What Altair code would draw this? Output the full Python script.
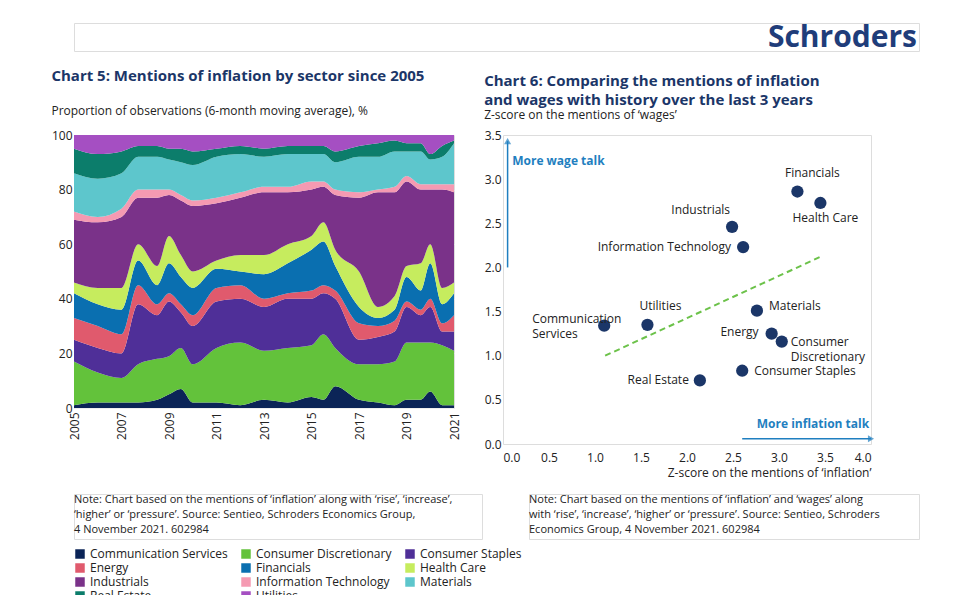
import altair as alt
import pandas as pd

years = [2005, 2006, 2007, 2007.7, 2008.5, 2009, 2009.5, 2010, 2011, 2012, 2013, 2014, 2015,
         2015.5, 2016, 2017, 2017.8, 2018.5, 2019, 2019.6, 2020, 2020.5, 2021]
sectors = ["Communication Services", "Consumer Discretionary", "Consumer Staples", "Energy",
           "Financials", "Health Care", "Industrials", "Information Technology", "Materials",
           "Real Estate", "Utilities"]
colors = ["#0b2457", "#63c23b", "#4f2f98", "#e05a6d", "#0a6fb0", "#c6ec5e", "#7a3289",
          "#f59ab2", "#5dc6cc", "#0c7d6b", "#a54fc2"]
# cumulative tops (%) per date, bottom to top (Utilities tops at 100)
cum = [
    [1, 17, 25, 33, 42, 46, 69, 72, 86, 95],
    [2, 13, 22, 30, 38, 44, 68, 70, 84, 93],
    [2, 11, 20, 27, 36, 44, 70, 73, 86, 94],
    [2, 16, 38, 45, 54, 60, 77, 80, 92, 96],
    [3, 18, 34, 38, 45, 52, 77, 80, 92, 96],
    [5, 19, 39, 42, 53, 63, 78, 80, 91, 95],
    [7, 22, 35, 38, 48, 56, 76, 78, 90, 95],
    [2, 16, 30, 34, 44, 50, 74, 76, 89, 94],
    [2, 22, 39, 44, 51, 54, 75, 77, 92, 95],
    [1, 24, 40, 45, 50, 56, 77, 79, 93, 96],
    [3, 21, 37, 40, 49, 56, 79, 81, 92, 95],
    [2, 22, 40, 42, 53, 60, 79, 81, 93, 96],
    [4, 23, 40, 43, 58, 63, 80, 83, 93, 96],
    [3, 27, 42, 45, 61, 68, 81, 83, 93, 96],
    [8, 22, 40, 43, 52, 58, 78, 80, 90, 94],
    [3, 16, 25, 31, 37, 50, 77, 79, 92, 96],
    [2, 16, 26, 30, 33, 37, 79, 80, 92, 97],
    [1, 17, 28, 32, 36, 41, 79, 81, 94, 98],
    [3, 24, 37, 39, 48, 52, 83, 85, 94, 97],
    [3, 24, 34, 36, 43, 53, 80, 82, 94, 97],
    [6, 24, 37, 40, 53, 60, 80, 82, 91, 93],
    [1, 23, 28, 31, 38, 44, 80, 82, 92, 96],
    [1, 21, 28, 34, 42, 46, 79, 82, 97, 98],
]
rows = []
for yr, c in zip(years, cum):
    full = c + [100]
    prev = 0
    for i, s in enumerate(sectors):
        rows.append({"year": yr, "sector": s, "order": i, "value": full[i] - prev})
        prev = full[i]
df1 = pd.DataFrame(rows)

navy = "#1b3668"
W1, H1 = 380, 273
left = alt.Chart(df1).mark_area(interpolate="monotone").encode(
    x=alt.X("year:Q", scale=alt.Scale(domain=[2005, 2021], nice=False),
            axis=alt.Axis(values=list(range(2005, 2022, 2)), format="d", labelAngle=-90,
                          title=None, grid=False, domain=False, ticks=False, labelFontSize=12,
                          labelColor="#222", labelPadding=4)),
    y=alt.Y("value:Q", stack="zero", scale=alt.Scale(domain=[0, 100], nice=False),
            axis=alt.Axis(values=list(range(0, 101, 20)), title=None, domain=False, ticks=False,
                          grid=True, gridColor="#eeeeee", labelFontSize=12, labelColor="#222")),
    color=alt.Color("sector:N", scale=alt.Scale(domain=sectors, range=colors),
                    legend=alt.Legend(title=None, orient="bottom", columns=3, symbolType="square",
                                      symbolSize=90, labelFontSize=12, labelColor="#222",
                                      columnPadding=12, rowPadding=2, offset=8, labelLimit=200)),
    order=alt.Order("order:Q"),
).properties(width=W1, height=H1,
    title=alt.TitleParams("Chart 5: Mentions of inflation by sector since 2005",
                          subtitle="Proportion of observations (6-month moving average), %",
                          anchor="start", frame="bounds", fontSize=15, color=navy, fontWeight="bold",
                          subtitleFontSize=12, subtitleColor="#222", subtitlePadding=22, offset=12,
                          font="Open Sans", subtitleFont="Open Sans"))

# Chart 6
names = ["Financials", "Health Care", "Industrials", "Information Technology",
         "Communication\nServices", "Utilities", "Materials", "Energy",
         "Consumer\nDiscretionary", "Real Estate", "Consumer Staples"]
xs = [3.20, 3.45, 2.49, 2.61, 1.10, 1.57, 2.76, 2.92, 3.03, 2.14, 2.60]
ys = [2.86, 2.73, 2.46, 2.23, 1.34, 1.35, 1.51, 1.25, 1.16, 0.72, 0.83]
lab_dx = [15, 5, -2, -12, -72, 13, 12, -13, 9, -11, 12]
lab_dy = [-19, 15, -17, 0, -7, -19, -5, -2, 0, 0, 0]
lab_align = ["center", "center", "right", "right", "left", "center", "left", "right", "left", "right", "left"]
df2 = pd.DataFrame({"name": names, "x": xs, "y": ys})
trend_x = [1.11, 3.45]
trend_y = [1.0, 2.12]

W2, H2 = 368, 309
xsc = alt.Scale(domain=[0, 4], nice=False)
ysc = alt.Scale(domain=[0, 3.5], nice=False)
pts = alt.Chart(df2).mark_circle(size=150, color=navy, opacity=1).encode(
    x=alt.X("x:Q", scale=xsc, axis=alt.Axis(values=[i * 0.5 for i in range(9)], format=".1f",
            title="Z-score on the mentions of \u2018inflation\u2019", titleAnchor="end",
            titleFontWeight="normal", titleFontSize=12, titleColor="#222", grid=False,
            domain=False, ticks=False, labelFontSize=12, labelColor="#222", labelPadding=8)),
    y=alt.Y("y:Q", scale=ysc, axis=alt.Axis(values=[i * 0.5 for i in range(8)], format=".1f",
            title=None, grid=False, domain=False, ticks=False, labelFontSize=12, labelColor="#222")))
labels = []
for i in range(len(names)):
    labels.append(alt.Chart(df2.iloc[[i]]).mark_text(
        align=lab_align[i], baseline="middle", dx=lab_dx[i], dy=lab_dy[i], fontSize=12,
        color="#222", lineBreak="\n", lineHeight=15).encode(x=alt.X("x:Q", scale=xsc),
                                                           y=alt.Y("y:Q", scale=ysc), text="name:N"))
trend = alt.Chart(pd.DataFrame({"x": trend_x, "y": trend_y})).mark_line(
    color="#6cc24a", strokeDash=[6, 4], strokeWidth=2).encode(
    x=alt.X("x:Q", scale=xsc), y=alt.Y("y:Q", scale=ysc))
ax = pd.DataFrame({"x": [0.05], "y": [2.0], "y2": [3.43], "hx": [2.6], "hx2": [4.0], "hy": [0.06]})
varrow = alt.Chart(ax).mark_rule(color="#1f7fc0", strokeWidth=1.5).encode(
    x=alt.X("x:Q", scale=xsc), y=alt.Y("y:Q", scale=ysc), y2="y2:Q")
vhead = alt.Chart(ax).mark_point(shape="triangle-up", filled=True, color="#1f7fc0", size=50).encode(
    x=alt.X("x:Q", scale=xsc), y=alt.Y("y2:Q", scale=ysc))
harrow = alt.Chart(ax).mark_rule(color="#1f7fc0", strokeWidth=1.5).encode(
    x=alt.X("hx:Q", scale=xsc), x2="hx2:Q", y=alt.Y("hy:Q", scale=ysc))
hhead = alt.Chart(ax).mark_point(shape="triangle-right", filled=True, color="#1f7fc0", size=50).encode(
    x=alt.X("hx2:Q", scale=xsc), y=alt.Y("hy:Q", scale=ysc))
vtext = alt.Chart(pd.DataFrame({"x": [0.1], "y": [3.2], "t": ["More wage talk"]})).mark_text(
    align="left", fontSize=12, fontWeight="bold", color="#1f7fc0").encode(
    x=alt.X("x:Q", scale=xsc), y=alt.Y("y:Q", scale=ysc), text="t:N")
htext = alt.Chart(pd.DataFrame({"x": [3.98], "y": [0.23], "t": ["More inflation talk"]})).mark_text(
    align="right", fontSize=12, fontWeight="bold", color="#1f7fc0").encode(
    x=alt.X("x:Q", scale=xsc), y=alt.Y("y:Q", scale=ysc), text="t:N")

right = alt.layer(trend, varrow, vhead, harrow, hhead, vtext, htext, pts, *labels).properties(
    width=W2, height=H2,
    title=alt.TitleParams(["Chart 6: Comparing the mentions of inflation",
                           "and wages with history over the last 3 years"],
                          subtitle="Z-score on the mentions of \u2018wages\u2019",
                          anchor="start", frame="bounds", fontSize=15, color=navy, fontWeight="bold",
                          subtitleFontSize=12, subtitleColor="#222", subtitlePadding=2, offset=8,
                          font="Open Sans", subtitleFont="Open Sans", lineHeight=19))

note_text1 = ["Note: Chart based on the mentions of \u2018inflation\u2019 along with \u2018rise\u2019, \u2018increase\u2019,",
              "\u2018higher\u2019 or \u2018pressure\u2019. Source: Sentieo, Schroders Economics Group,",
              "4 November 2021. 602984"]
note_text2 = ["Note: Chart based on the mentions of \u2018inflation\u2019 and \u2018wages\u2019 along",
              "with \u2018rise\u2019, \u2018increase\u2019, \u2018higher\u2019 or \u2018pressure\u2019. Source: Sentieo, Schroders",
              "Economics Group, 4 November 2021. 602984"]
note1 = alt.Chart(pd.DataFrame({"t": [note_text1]})).mark_text(
    align="left", baseline="top", fontSize=11, color="#222", lineHeight=15).encode(
    text="t:N", x=alt.value(0), y=alt.value(0)).properties(width=408, height=45)
note2 = alt.Chart(pd.DataFrame({"t": [note_text2]})).mark_text(
    align="left", baseline="top", fontSize=11, color="#222", lineHeight=15).encode(
    text="t:N", x=alt.value(0), y=alt.value(0)).properties(width=390, height=45)
notes = alt.hconcat(note1, note2, spacing=45)

logo = alt.Chart(pd.DataFrame({"t": ["Schroders"]})).mark_text(
    align="right", baseline="top", fontSize=30, fontWeight="bold", color="#1f3d7a", font="Open Sans").encode(
    text="t:N", x=alt.value(843), y=alt.value(0)).properties(width=845, height=28)

chart = alt.vconcat(logo, alt.hconcat(left, right, spacing=22), notes, spacing=14).properties(
    padding={"left": 42, "top": 14, "right": 5, "bottom": 5}
).configure_view(stroke=None, strokeWidth=0).configure(font="Open Sans")
chart.save("out.html", embed_options={"renderer": "svg", "actions": False})
